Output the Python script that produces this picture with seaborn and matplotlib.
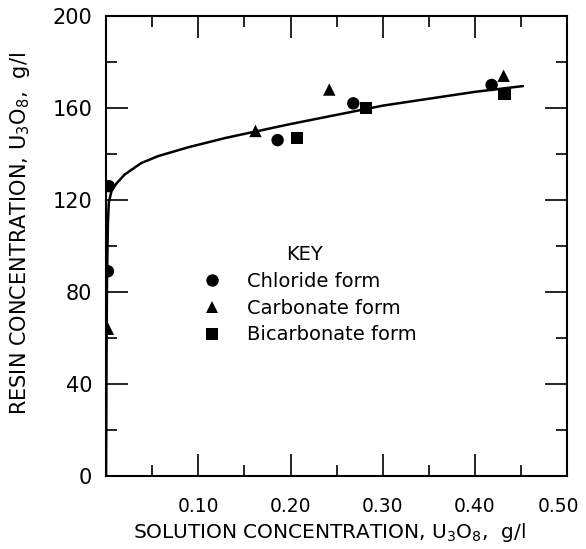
import matplotlib
matplotlib.use('Agg')
from matplotlib import pyplot as plt
from matplotlib.ticker import MultipleLocator
from matplotlib.transforms import ScaledTranslation
import pandas as pd
import seaborn as sns

# points (solution conc g/l, resin conc g/l)
chloride_x = [0.003, 0.002, 0.186, 0.268, 0.418]
chloride_y = [126, 89, 146, 162, 170]
carbonate_x = [0.002, 0.162, 0.242, 0.431]
carbonate_y = [64, 150, 168, 174]
bicarbonate_x = [0.207, 0.282, 0.432]
bicarbonate_y = [147, 160, 166]

# smooth isotherm curve drawn through the data
curve_x = [0, 0.0005, 0.001, 0.002, 0.003, 0.006, 0.011, 0.02, 0.038, 0.056,
           0.09, 0.13, 0.165, 0.2, 0.25, 0.3, 0.35, 0.4, 0.452]
curve_y = [0, 50, 85, 110, 119, 124, 127, 131, 136, 139,
           143, 147, 150, 153, 157, 161, 164, 167, 169.5]

xtick_vals = [0.1, 0.2, 0.3, 0.4, 0.5]
xtick_labels = ['0.10', '0.20', '0.30', '0.40', '0.50']
ytick_vals = [0, 40, 80, 120, 160, 200]

forms = ['Chloride form', 'Carbonate form', 'Bicarbonate form']

pts = pd.DataFrame({
    'x': chloride_x + carbonate_x + bicarbonate_x,
    'y': chloride_y + carbonate_y + bicarbonate_y,
    'form': [forms[0]] * len(chloride_x) + [forms[1]] * len(carbonate_x)
            + [forms[2]] * len(bicarbonate_x),
})
curve = pd.DataFrame({'x': curve_x, 'y': curve_y})

sns.set_style('white')
plt.rcParams['font.family'] = ['DejaVu Sans']
plt.rcParams['text.color'] = 'black'
plt.rcParams['axes.labelcolor'] = 'black'
plt.rcParams['xtick.color'] = 'black'
plt.rcParams['ytick.color'] = 'black'

fig = plt.figure(figsize=(5.86, 5.49), dpi=100)
ax = fig.add_axes([0.181, 0.133, 0.787, 0.838])

sns.lineplot(data=curve, x='x', y='y', color='black', linewidth=1.8,
             sort=False, estimator=None, ax=ax, legend=False)
sns.scatterplot(data=pts, x='x', y='y', style='form', style_order=forms,
                markers={forms[0]: 'o', forms[1]: '^', forms[2]: 's'},
                color='black', s=80, edgecolor='black', linewidth=0, ax=ax,
                zorder=5)

ax.set_xlim(0, 0.5)
ax.set_ylim(0, 200)
ax.set_xticks(xtick_vals)
ax.set_xticklabels(xtick_labels)
ax.set_yticks(ytick_vals)
ax.xaxis.set_minor_locator(MultipleLocator(0.05))
ax.yaxis.set_minor_locator(MultipleLocator(20))
ax.tick_params(which='both', direction='in', top=True, right=True,
               bottom=True, left=True, color='black', width=1.2)
ax.tick_params(which='major', length=16)
ax.tick_params(which='minor', length=8)
ax.tick_params(axis='x', which='major', pad=15, labelsize=13.5)
ax.tick_params(axis='y', which='major', pad=10, labelsize=15)
for sp in ax.spines.values():
    sp.set_color('black')
    sp.set_linewidth(1.5)

# keep the last x label inside the figure edge
last = ax.get_xticklabels()[-1]
last.set_transform(last.get_transform()
                   + ScaledTranslation(-6 / 72, 0, fig.dpi_scale_trans))

ax.set_xlabel(r'SOLUTION CONCENTRATION, $\mathregular{U_3O_8}$,  g/l',
              fontsize=14.5)
ax.set_ylabel(r'RESIN CONCENTRATION, $\mathregular{U_3O_8}$,  g/l',
              fontsize=15)
ax.xaxis.set_label_coords(0.484, -0.098)
ax.yaxis.set_label_coords(-0.16, 0.528)

leg = ax.legend(title='KEY', loc='upper left', bbox_to_anchor=(0.15, 0.54),
                frameon=False, fontsize=14, title_fontsize=14,
                handletextpad=0.8, labelspacing=0.4, markerscale=1.0)

fig.savefig('out.png', dpi=100)
